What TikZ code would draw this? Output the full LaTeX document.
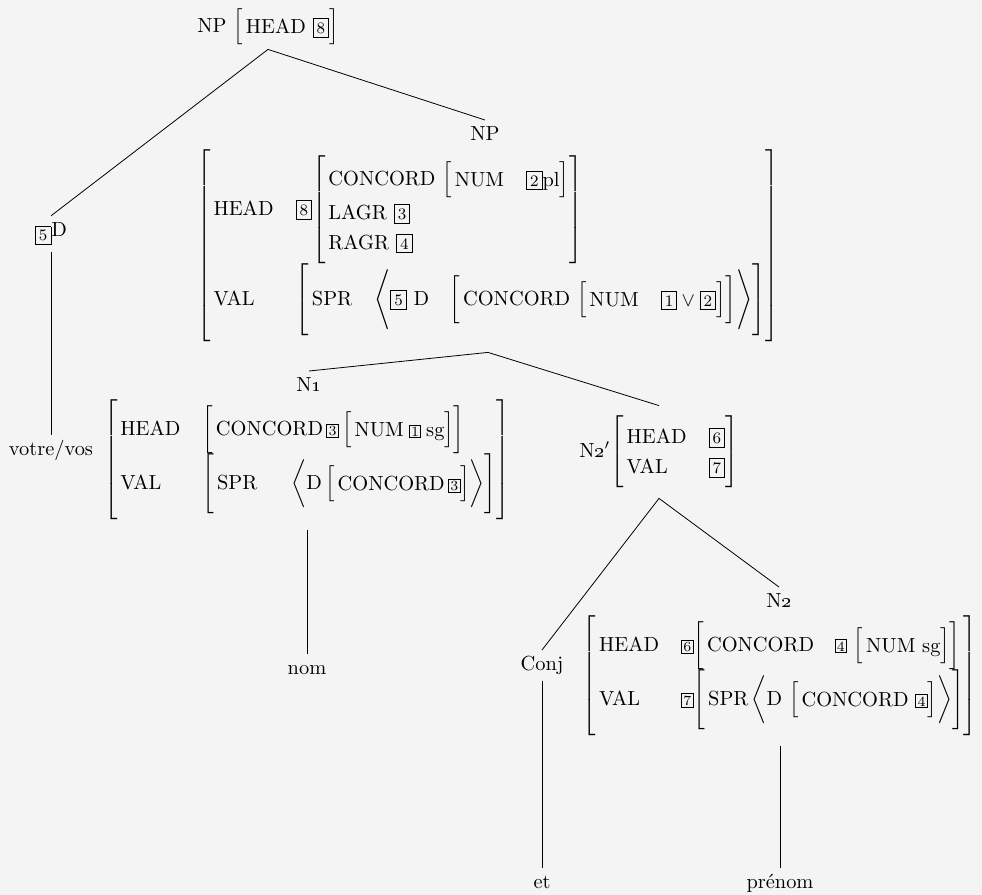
\documentclass[tikz,border=0pt]{standalone}
\usepackage{amsmath}

\definecolor{paper}{RGB}{244,244,244}

\newcommand{\ft}[1]{\text{#1}}
\newcommand{\tg}[1]{{\setlength{\fboxsep}{1.6pt}\fbox{\footnotesize #1}}}
\newcommand{\stg}[1]{{\setlength{\fboxsep}{0.7pt}\fbox{\scriptsize #1}}}
\newcommand{\avm}[1]{{\left[\begin{array}{@{\hspace{1.5pt}}l@{\hspace{11pt}}l@{}}#1\end{array}\right]}}
\newcommand{\avl}[1]{{\left[\begin{array}{@{\hspace{1.5pt}}l@{}}#1\end{array}\right]}}
\newcommand{\lst}[1]{{\left\langle#1\right\rangle}}
\renewcommand{\arraystretch}{1.2}
\delimiterfactor=1001
\delimitershortfall=-0.5pt

\begin{document}
\begin{tikzpicture}[x=0.5pt, y=-0.5pt, font=\fontsize{10.2}{12.5}\selectfont,
		cat/.style={anchor=north, text height=1.6ex, text depth=.3ex},
		fs/.style={inner sep=5pt}]
	\path[use as bounding box, fill=paper] (0, 0) rectangle (982, 895);

	\node[inner sep=2pt] (top) at (268, 27) {NP $\avl{\ft{HEAD}\ \tg{8}}$};
	\node (d5) at (51, 234) {\raisebox{-2pt}{\tg{5}}D};
	\node[cat] (vos) at (51, 435) {votre/vos};

	\node[cat] (np) at (485, 120) {NP};
	\node[fs] (npfs) at (488, 246) {$\avm{\ft{HEAD} & \tg{8}\avl{\ft{CONCORD}\ \avm{\ft{NUM} & \tg{2}\ft{pl}}\\ \ft{LAGR}\ \tg{3}\\ \ft{RAGR}\ \tg{4}}\\
		\ft{VAL} & \avl{\ft{SPR}\hspace{11pt}\lst{\tg{5}\ \ft{D}\quad\avl{\ft{CONCORD}\ \avm{\ft{NUM} & \tg{1}\vee\tg{2}}}}}}$};

	\node[cat] (n1) at (309, 371) {N\oldstylenums{1}};
	\node[fs] (n1fs) at (307, 460) {$\avm{\ft{HEAD} & \avl{\ft{CONCORD}\,\stg{3}\,\avl{\ft{NUM}\hspace{2.5pt}\stg{1}\hspace{2.5pt}\ft{sg}}}\\
		\ft{VAL} & \avl{\ft{SPR}\hspace{17pt}\lst{\ft{D}\,\avl{\ft{CONCORD}\,\stg{3}}}}}$};
	\node[cat] (nom) at (307, 654) {nom};

	\node[fs] (n2bar) at (659, 452) {N\oldstylenums{2}$'\avm{\ft{HEAD} & \tg{6}\\ \ft{VAL} & \tg{7}}$};
	\node[cat] (conj) at (542, 650) {Conj};
	\node[cat] (et) at (542, 868) {et};
	\node[cat] (n2) at (779, 587) {N\oldstylenums{2}};
	\node[fs] (n2fs) at (780, 676) {$\avm{\ft{HEAD} & \stg{6}\avl{\ft{CONCORD}\quad\stg{4}\ \avl{\ft{NUM}\ \ft{sg}}}\\
		\ft{VAL} & \stg{7}\avl{\ft{SPR}\,\lst{\ft{D}\ \avl{\ft{CONCORD}\ \stg{4}}}}}$};
	\node[cat] (pre) at (780, 868) {prénom};

	\draw (top.south) -- (d5.north);
	\draw (top.south) -- (np.north);
	\draw (d5.south) -- (vos.north);
	\draw (npfs.south) -- (n1.north);
	\draw (npfs.south) -- (n2bar.north);
	\draw (n1fs.south) -- (nom.north);
	\draw (n2bar.south) -- (conj.north);
	\draw (n2bar.south) -- (n2.north);
	\draw (conj.south) -- (et.north);
	\draw (n2fs.south) -- (pre.north);
\end{tikzpicture}
\end{document}
